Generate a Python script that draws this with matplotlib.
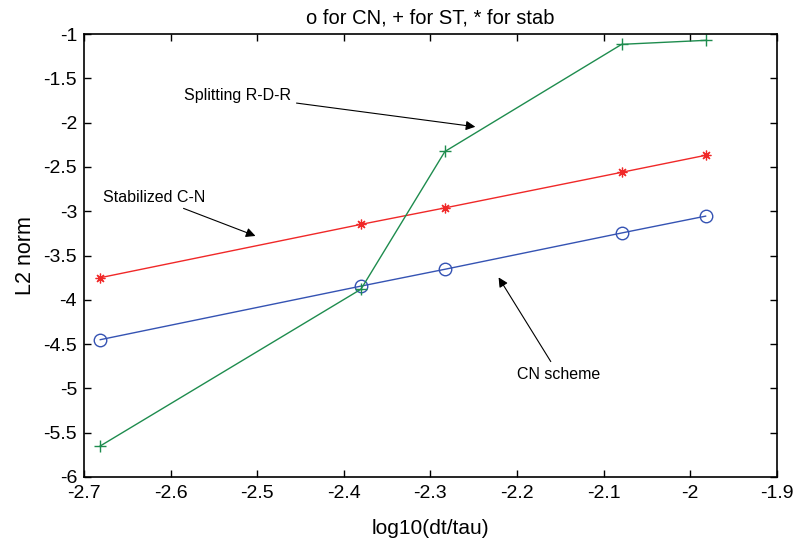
import numpy as np
import matplotlib
matplotlib.use("Agg")
import matplotlib.pyplot as plt

# log10(dt/tau) values
log_dt = [-2.6812, -2.3802, -2.2833, -2.0792, -1.9823]

# L2 norm of the error for each scheme
err_cn = [-4.45, -3.845, -3.655, -3.245, -3.055]
err_st = [-5.65, -3.88, -2.325, -1.115, -1.07]
err_stab = [-3.75, -3.148, -2.962, -2.56, -2.368]

plt.rcParams['font.family'] = ['Liberation Sans', 'DejaVu Sans']

fig = plt.figure(figsize=(7.96, 5.42), dpi=100)
ax = fig.add_axes([0.1055, 0.12, 0.8705, 0.817])

ax.plot(log_dt, err_cn, color='#3553b3', lw=1, marker='o', ms=9,
        mfc='none', mec='#3553b3', mew=1)
# MATLAB style asterisk marker
ax.plot(log_dt, err_stab, color='#f02828', lw=1, marker=(8, 2, 0), ms=7,
        mec='#f02828', mew=0.9)
ax.plot(log_dt, err_st, color='#1e8c4e', lw=1, marker='+', ms=9,
        mec='#1e8c4e', mew=1)

ax.set_xlim(-2.7, -1.9)
ax.set_ylim(-6, -1)
ax.set_xticks(np.arange(-2.7, -1.85, 0.1))
ax.set_xticklabels(['-2.7', '-2.6', '-2.5', '-2.4', '-2.3', '-2.2', '-2.1', '-2', '-1.9'])
ax.set_yticks(np.arange(-6, -0.9, 0.5))
ax.set_yticklabels(['-6', '-5.5', '-5', '-4.5', '-4', '-3.5', '-3', '-2.5', '-2', '-1.5', '-1'])
ax.tick_params(direction='in', top=True, right=True, labelsize=14, length=5, width=1)
ax.tick_params(axis='x', pad=6)
ax.tick_params(axis='y', pad=5)
for s in ax.spines.values():
    s.set_linewidth(1.2)

ax.set_title('o for CN, + for ST, * for stab', fontsize=14.5, pad=8)
ax.set_xlabel('log10(dt/tau)', fontsize=15, labelpad=12)
ax.set_ylabel('L2 norm', fontsize=15.5, labelpad=5)

arrow = dict(arrowstyle='-|>', color='black', lw=0.8, mutation_scale=14)
ax.annotate('Splitting R-D-R', xy=(-2.245, -2.05), xytext=(-2.461, -1.69),
            fontsize=11.5, ha='right', va='center', arrowprops=arrow)
ax.annotate('Stabilized C-N', xy=(-2.499, -3.29), xytext=(-2.56, -2.84),
            fontsize=11.5, ha='right', va='center', arrowprops=arrow)
ax.annotate('CN scheme', xy=(-2.223, -3.72), xytext=(-2.152, -4.84),
            fontsize=11.5, ha='center', va='center', arrowprops=arrow)

fig.savefig('out.png', dpi=100)
